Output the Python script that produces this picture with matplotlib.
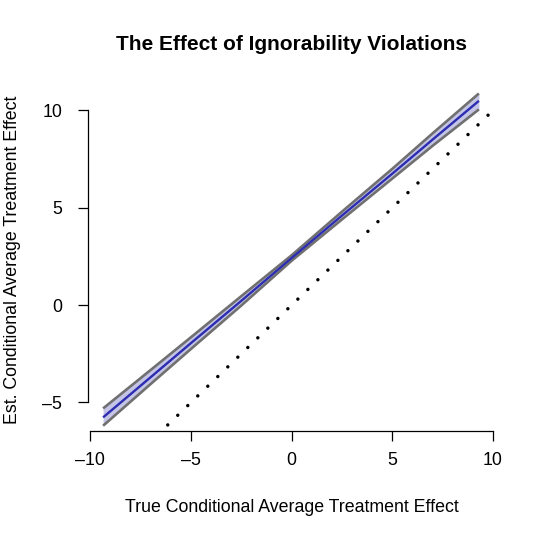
import numpy as np
import matplotlib
matplotlib.use("Agg")
import matplotlib.pyplot as plt

plt.rcParams['font.family'] = ['Liberation Sans', 'DejaVu Sans']

# values
true_cate = [-9.37, -7.0, -5.0, -2.5, 0.0, 2.5, 5.0, 7.0, 9.3]
est_cate = [-5.77, -3.70, -1.95, 0.22, 2.42, 4.60, 6.75, 8.50, 10.49]
est_lower = [-6.20, -4.05, -2.25, -0.02, 2.28, 4.40, 6.50, 8.18, 10.05]
est_upper = [-5.31, -3.33, -1.65, 0.46, 2.56, 4.80, 7.00, 8.82, 10.87]

title = 'The Effect of Ignorability Violations'
xlab = 'True Conditional Average Treatment Effect'
ylab = 'Est. Conditional Average Treatment Effect'
xticks = [-10, -5, 0, 5, 10]
yticks = [-5, 0, 5, 10]

W = 540
fig = plt.figure(figsize=(5.4, 5.4), dpi=100)
ax = fig.add_axes([88 / W, 1 - 431 / W, (495 - 88) / W, (431 - 88) / W])

ax.fill_between(true_cate, est_lower, est_upper, color='#c4c4e6', lw=0)
ax.plot(true_cate, est_lower, color='#707070', lw=1.9, solid_capstyle='butt')
ax.plot(true_cate, est_upper, color='#707070', lw=1.9, solid_capstyle='butt')
ax.plot(true_cate, est_cate, color='#2c2cb0', lw=1.7, solid_capstyle='butt')

# 45 degree reference line
ax.axline((0, 0), slope=1, color='black', lw=2.5,
          linestyle=(1.5, (0.01, 4.0)), dash_capstyle='round')

ax.set_xlim(-10.12, 10.1)
ax.set_ylim(-6.47, 11.15)

for s in ['top', 'right']:
    ax.spines[s].set_visible(False)
ax.spines['left'].set_bounds(-5, 10)
ax.spines['bottom'].set_bounds(-10, 10)
ax.spines['left'].set_linewidth(0.9)
ax.spines['bottom'].set_linewidth(0.9)

ax.set_xticks(xticks)
ax.set_xticklabels([str(t).replace('-', '\u2013') for t in xticks])
ax.set_yticks(yticks)
ax.set_yticklabels([str(t).replace('-', '\u2013') for t in yticks])
ax.tick_params(axis='x', length=7.2, width=0.9, labelsize=12.8, pad=8)
ax.tick_params(axis='y', length=7.2, width=0.9, labelsize=12.8, pad=11.5)

fig.text(291.5 / W, 1 - 45 / W, title, ha='center', va='center',
         fontsize=15, fontweight='bold')
fig.text(291.5 / W, 1 - 508 / W, xlab, ha='center', va='center', fontsize=12.8)
fig.text(13 / W, 1 - 259.5 / W, ylab, ha='center', va='center',
         rotation=90, fontsize=12.8)

fig.savefig('out.png', dpi=100)
